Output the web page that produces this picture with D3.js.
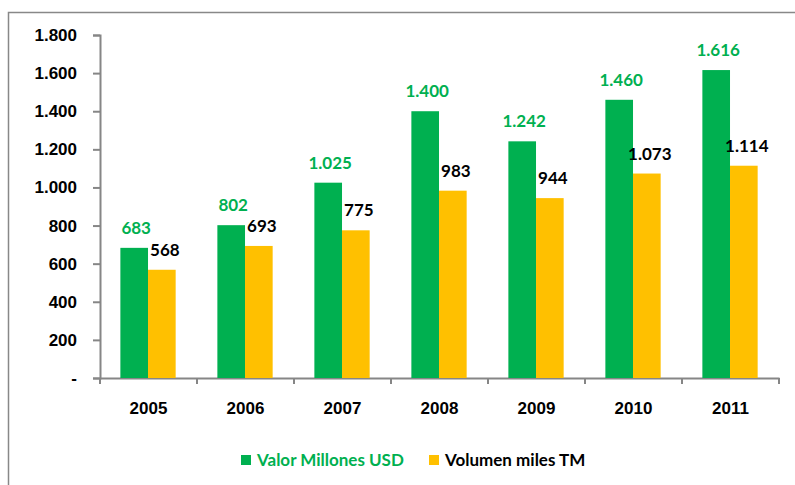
<!DOCTYPE html>
<html>
<head>
<meta charset="utf-8">
<script src="https://cdn.jsdelivr.net/npm/d3@7"></script>
<style>
  body { margin: 0; background: #fff; }
  svg { display: block; font-family: Lato, "Open Sans", sans-serif; }
  .axis path, .axis line { stroke: #868686; stroke-width: 2px; }
  .axis text { font-size: 17px; font-weight: bold; fill: #000; }
</style>
</head>
<body>
<svg></svg>
<script>
var years = ["2005", "2006", "2007", "2008", "2009", "2010", "2011"];
var valor = [683, 802, 1025, 1400, 1242, 1460, 1616];
var volumen = [568, 693, 775, 983, 944, 1073, 1114];
var yTicks = [0, 200, 400, 600, 800, 1000, 1200, 1400, 1600, 1800];
var seriesNames = ["Valor Millones USD", "Volumen miles TM"];

var width = 795, height = 485;
var svg = d3.select("svg").attr("width", width).attr("height", height);

// outer frame (cut off at right and bottom)
svg.append("rect")
    .attr("x", 8.5).attr("y", 12.5)
    .attr("width", 800).attr("height", 500)
    .attr("fill", "none").attr("stroke", "#888").attr("stroke-width", 1.5);

var fmt = function (v) {
    if (v == 0) return "-";
    return d3.format(",")(v).replace(/,/g, ".");
};

var x = d3.scaleBand().domain(years).range([100, 779]);
var y = d3.scaleLinear().domain([0, 1800]).range([378, 35]);

var g = svg.append("g");

// y axis
g.append("g")
    .attr("class", "axis")
    .attr("transform", "translate(100,0)")
    .call(d3.axisLeft(y).tickValues(yTicks).tickFormat(fmt).tickSize(7).tickSizeOuter(7).tickPadding(16));

// x axis with ticks at band boundaries
var xAxis = g.append("g")
    .attr("class", "axis")
    .attr("transform", "translate(0,378)")
    .call(d3.axisBottom(x).tickSize(0).tickPadding(24));
xAxis.selectAll(".bound")
    .data(years.concat(["end"])).enter()
    .append("line")
    .attr("x1", function (d, i) { return 100 + i * x.bandwidth(); })
    .attr("x2", function (d, i) { return 100 + i * x.bandwidth(); })
    .attr("y1", 0).attr("y2", 6);

var barW = x.bandwidth() * 0.285;
var offset = x.bandwidth() * 0.21;

// green bars
g.selectAll(".valor")
    .data(valor).enter()
    .append("rect")
    .attr("x", function (d, i) { return x(years[i]) + offset; })
    .attr("y", function (d) { return y(d); })
    .attr("width", barW)
    .attr("height", function (d) { return y(0) - y(d); })
    .attr("fill", "#00B050");

// yellow bars
g.selectAll(".volumen")
    .data(volumen).enter()
    .append("rect")
    .attr("x", function (d, i) { return x(years[i]) + offset + barW; })
    .attr("y", function (d) { return y(d); })
    .attr("width", barW)
    .attr("height", function (d) { return y(0) - y(d); })
    .attr("fill", "#FFC000");

// value labels
g.selectAll(".lblV")
    .data(valor).enter()
    .append("text")
    .attr("x", function (d, i) { return x(years[i]) + offset + barW / 2 + 2; })
    .attr("y", function (d) { return y(d) - 14; })
    .attr("text-anchor", "middle")
    .style("font-size", "17px").style("font-weight", "bold")
    .attr("fill", "#00B050")
    .text(fmt);

g.selectAll(".lblW")
    .data(volumen).enter()
    .append("text")
    .attr("x", function (d, i) { return x(years[i]) + offset + barW * 1.5 + 3; })
    .attr("y", function (d) { return y(d) - 14; })
    .attr("text-anchor", "middle")
    .style("font-size", "17px").style("font-weight", "bold")
    .attr("fill", "#000")
    .text(fmt);

// legend
var legendColors = ["#00B050", "#FFC000"];
var legendText = ["#00B050", "#000"];
var legendX = [241, 429];
var legend = svg.selectAll(".legend")
    .data(seriesNames).enter()
    .append("g")
    .attr("transform", function (d, i) { return "translate(" + legendX[i] + ",455)"; });
legend.append("rect")
    .attr("width", 10).attr("height", 10)
    .attr("fill", function (d, i) { return legendColors[i]; });
legend.append("text")
    .attr("x", 16).attr("y", 11)
    .style("font-size", "17px").style("font-weight", "bold")
    .attr("fill", function (d, i) { return legendText[i]; })
    .text(function (d) { return d; });
</script>
</body>
</html>
